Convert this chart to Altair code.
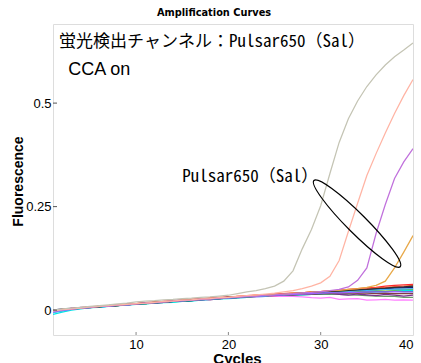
import altair as alt
import pandas as pd

cycles = list(range(1, 41))

# fluorescence values in thousandths
s_red = [-2,1,3,6,6,9,11,12,14,16,17,19,21,22,25,26,27,29,31,31,33,35,36,37,39,40,41,42,44,45,47,48,50,52,54,55,58,60,61,62]
s_blue = [-4,0,4,5,8,7,10,13,14,15,18,19,20,23,24,25,27,28,29,32,32,33,35,36,38,38,40,41,42,44,45,47,48,49,51,52,53,55,55,56]
s_green = [-3,2,2,6,7,9,9,12,14,14,16,18,20,20,22,24,25,27,28,29,31,32,33,34,34,36,37,37,38,38,39,38,37,36,35,34,33,33,31,31]
s_cyan = [-10,-5,0,3,6,7,9,11,12,14,15,17,18,19,21,22,24,26,27,28,29,31,32,33,34,35,36,37,38,40,40,41,42,43,44,44,45,46,47,48]
s_violet = [-2,2,4,5,8,9,10,13,13,16,17,18,21,21,23,24,25,27,28,30,30,31,32,33,33,34,33,32,30,29,31,26,27,28,24,25,26,24,25,24]
s_navy = [0,3,4,5,7,9,10,11,13,15,16,18,19,21,22,23,25,27,28,29,31,32,34,35,36,38,39,40,42,43,44,46,47,48,50,51,52,53,54,55]
s_plum = [-1,1,3,7,6,8,11,12,12,15,18,17,19,22,21,24,26,25,28,29,31,33,33,35,36,36,37,39,38,40,41,38,36,39,37,35,38,36,34,36]
s_teal = [-5,-1,3,4,6,9,9,11,14,14,16,17,20,21,22,23,26,26,28,30,30,32,33,35,36,36,38,39,40,40,42,43,43,44,44,45,45,46,45,45]
s_lime = [-3,0,3,5,8,8,11,12,13,16,16,18,20,22,22,25,26,27,29,30,32,32,34,35,37,37,39,40,41,42,43,44,46,46,47,48,49,49,50,50]
s_maroon = [-2,2,2,5,7,9,10,11,14,15,17,18,19,21,23,24,25,27,28,30,31,32,33,34,35,36,37,38,39,40,40,41,41,42,41,40,41,40,40,40]
s_sky = [-6,-2,2,4,6,8,10,12,13,15,16,18,19,21,22,24,25,26,28,29,31,32,33,34,36,37,38,40,40,42,43,44,45,47,48,49,50,51,51,52]
s_coral = [-1,2,4,6,8,10,11,13,15,16,18,20,21,23,24,26,27,29,30,32,33,34,36,37,38,40,41,42,44,45,46,48,49,51,52,54,55,57,58,60]
s_dark = [-3,1,3,6,7,8,11,12,14,15,17,19,20,21,23,25,26,27,29,31,32,33,35,36,37,38,40,41,43,44,45,46,48,49,50,52,53,55,56,58]
s_lilac = [-4,0,2,5,7,9,10,12,13,15,17,18,20,22,23,24,26,27,29,30,31,33,34,35,36,37,38,39,40,41,42,42,43,43,44,44,44,45,44,44]

a_gray = [0,3,5,7,9,11,13,15,17,20,22,23,25,26,28,29,31,32,34,36,40,44,47,52,58,70,95,148,195,252,330,405,462,505,540,568,592,612,628,645]
a_pink = [-2,1,3,5,8,9,11,13,14,16,17,19,21,22,24,25,27,28,30,31,33,35,37,39,41,44,47,52,58,66,82,120,190,258,325,378,428,475,518,557]
a_purple = [-3,0,3,5,7,9,10,12,14,15,17,18,20,22,23,24,26,27,29,30,32,33,34,36,37,39,40,42,43,45,47,50,56,72,102,185,255,318,358,390]
a_orange = [-1,2,3,6,7,9,11,12,14,16,17,19,20,22,24,25,26,28,29,31,32,34,35,36,38,39,41,42,44,45,47,48,50,52,55,60,70,102,140,180]

series = {
    "red": (s_red, "#ff2a2a"),
    "blue": (s_blue, "#2040ff"),
    "green": (s_green, "#6a9a6a"),
    "cyan": (s_cyan, "#00e5e5"),
    "violet": (s_violet, "#ff80ff"),
    "navy": (s_navy, "#1a1a70"),
    "plum": (s_plum, "#7a3090"),
    "teal": (s_teal, "#008060"),
    "lime": (s_lime, "#70c020"),
    "maroon": (s_maroon, "#804040"),
    "sky": (s_sky, "#40b0ff"),
    "coral": (s_coral, "#ff6040"),
    "dark": (s_dark, "#303030"),
    "lilac": (s_lilac, "#a060ff"),
    "amp_orange": (a_orange, "#e8a848"),
    "amp_purple": (a_purple, "#c070dc"),
    "amp_pink": (a_pink, "#ffb4a4"),
    "amp_gray": (a_gray, "#c4c4b4"),
}

rows = []
for order, (name, (vals, col)) in enumerate(series.items()):
    for c, v in zip(cycles, vals):
        rows.append({"cycle": c, "fl": v / 1000.0, "well": name, "ord": order})
df = pd.DataFrame(rows)

x_ticks = [10, 20, 30, 40]
y_ticks = [0, 0.25, 0.5]

x_dom = [1, 40]
y_dom = [-0.060, 0.691]

xs = alt.Scale(domain=x_dom, nice=False, zero=False)
ys = alt.Scale(domain=y_dom, nice=False, zero=False)

lines = alt.Chart(df).mark_line(strokeWidth=1.25, clip=True).encode(
    x=alt.X("cycle:Q", scale=xs,
            axis=alt.Axis(values=x_ticks, title="Cycles", ticks=False, domain=False, grid=False,
                          labelFont="Liberation Sans", labelFontSize=13, labelColor="black",
                          labelPadding=3, titleFont="Liberation Sans", titleFontSize=15,
                          titleFontWeight="bold", titleColor="black", titleX=184, titleY=23,
                          titleBaseline="middle")),
    y=alt.Y("fl:Q", scale=ys,
            axis=alt.Axis(values=y_ticks, labelExpr="toString(datum.value)", title="Fluorescence",
                          ticks=False, domain=False, grid=False, labelFont="Liberation Sans",
                          labelFontSize=13, labelColor="black", labelPadding=2,
                          titleFont="Liberation Sans", titleFontSize=14, titleFontWeight="bold",
                          titleColor="black", titleX=-35, titleY=157, titleAngle=-90,
                          titleBaseline="middle", titleAlign="center")),
    color=alt.Color("well:N", scale=alt.Scale(domain=list(series.keys()),
                                              range=[v[1] for v in series.values()]),
                    legend=None),
    order=alt.Order("ord:Q"),
    detail="well:N",
)

# inward tick marks
xt = pd.DataFrame({"t": x_ticks[:-1]})
xtick = alt.Chart(xt).mark_rule(color="#888888", strokeWidth=1).encode(
    x=alt.X("t:Q", scale=xs), y=alt.value(308), y2=alt.value(311))
yt = pd.DataFrame({"t": y_ticks})
ytick = alt.Chart(yt).mark_rule(color="#555555", strokeWidth=1).encode(
    y=alt.Y("t:Q", scale=ys), x=alt.value(0), x2=alt.value(4))

# annotations (data coordinates)
ann_text = ["蛍光検出チャンネル：Pulsar650（Sal）", "Pulsar650（Sal）"]
ann_x = [1.66, 14.99]
ann_y = [0.647, 0.321]
ann = alt.Chart(pd.DataFrame({"t": ann_text, "x": ann_x, "y": ann_y})).mark_text(
    align="left", baseline="middle", fontSize=17,
    font="Noto Sans Mono CJK JP, Noto Sans CJK JP", color="black").encode(
    x=alt.X("x:Q", scale=xs), y=alt.Y("y:Q", scale=ys), text="t:N")

cca = alt.Chart(pd.DataFrame({"t": ["CCA on"], "x": [2.64], "y": [0.580]})).mark_text(
    align="left", baseline="middle", fontSize=18, font="Liberation Sans", color="black").encode(
    x=alt.X("x:Q", scale=xs), y=alt.Y("y:Q", scale=ys), text="t:N")

ell_x = [33.94]
ell_y = [0.209]
ellipse = alt.Chart(pd.DataFrame({"x": ell_x, "y": ell_y})).mark_point(
    shape="M -1 0 A 1 0.16 0 1 0 1 0 A 1 0.16 0 1 0 -1 0 Z",
    size=122 * 122, angle=45, filled=False, color="black", strokeWidth=1.2, opacity=1).encode(
    x=alt.X("x:Q", scale=xs), y=alt.Y("y:Q", scale=ys))

chart = alt.layer(lines, xtick, ytick, ann, cca, ellipse).properties(
    width=360, height=311,
    autosize=alt.AutoSizeParams(type="none"),
    padding={"left": 53, "top": 24, "right": 8, "bottom": 28},
    title=alt.TitleParams("Amplification Curves", font="DejaVu Sans", fontSize=9.8,
                          fontWeight="bold", color="black", anchor="middle", dx=-19, offset=6),
).configure_view(stroke="#b0b0b0", strokeWidth=2).configure(background="white")

chart.save("out.html", embed_options={"renderer": "svg", "actions": False})
